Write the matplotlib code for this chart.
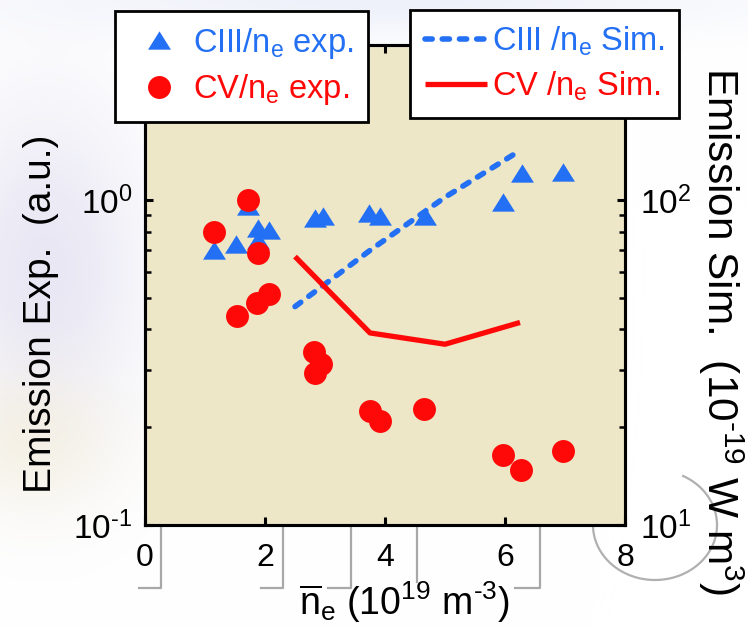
import matplotlib
matplotlib.use("Agg")
import matplotlib.pyplot as plt
from matplotlib.lines import Line2D
from matplotlib.ticker import LogLocator, NullFormatter, FuncFormatter
import numpy as np

plt.rcParams['font.family'] = ['Liberation Sans', 'DejaVu Sans']
plt.rcParams['mathtext.fontset'] = 'custom'
plt.rcParams['mathtext.rm'] = 'Liberation Sans'
plt.rcParams['mathtext.it'] = 'Liberation Sans'
plt.rcParams['mathtext.bf'] = 'Liberation Sans:bold'
plt.rcParams['axes.unicode_minus'] = False

# Line-averaged density (10^19 m^-3) and normalised emission, experiment
ciii_ne = [1.15, 1.52, 1.71, 1.88, 1.88, 2.07, 2.83, 2.96, 3.74, 3.91, 4.66, 5.96, 6.28, 6.96]
ciii_exp = [0.702, 0.732, 0.958, 0.818, 0.753, 0.809, 0.878, 0.893, 0.910, 0.893, 0.893, 0.988, 1.21, 1.22]
cv_ne = [1.71, 1.15, 1.88, 1.53, 1.86, 2.07, 2.82, 2.94, 2.83, 3.75, 3.92, 4.65, 5.96, 6.27, 6.96]
cv_exp = [1.00, 0.799, 0.688, 0.440, 0.483, 0.514, 0.341, 0.313, 0.294, 0.224, 0.209, 0.227, 0.164, 0.148, 0.169]

# Simulated emission (10^-19 W m^3)
sim_ne = [2.5, 3.75, 5.0, 6.25]
ciii_sim = [47, 70, 102, 142]
cv_sim = [67, 39, 36, 42]

x_ticks = [0, 2, 4, 6, 8]
legend_exp = ['CIII/n$_\\mathrm{e}$ exp.', 'CV/n$_\\mathrm{e}$ exp.']
legend_sim = ['CIII /n$_\\mathrm{e}$ Sim.', 'CV /n$_\\mathrm{e}$ Sim.']

BLUE = '#2370F4'
RED = '#FF0808'
BEIGE = '#EEE7C7'

W, H = 748, 628
fig = plt.figure(figsize=(W / 100, H / 100), dpi=100)
fig.patch.set_facecolor('white')


def px(x, y):
    """Pixel position (from top-left) to figure fraction."""
    return x / W, 1 - y / H


# soft washed-out backdrop
bg = fig.add_axes([0, 0, 1, 1], zorder=-10)
bg.set_axis_off()
yy, xx = np.mgrid[0:H, 0:W]
img = np.ones((H, W, 3))
blobs = [
    (45, 270, 70, 120, (0.80, 0.79, 0.90), 0.45),
    (380, 0, 260, 25, (0.86, 0.88, 0.96), 0.45),
    (30, 440, 60, 50, (0.95, 0.92, 0.82), 0.5),
]
for cx, cy, sx, sy, col, amp in blobs:
    w = amp * np.exp(-0.5 * (((xx - cx) / sx) ** 2 + ((yy - cy) / sy) ** 2))
    for c in range(3):
        img[:, :, c] = img[:, :, c] * (1 - w) + col[c] * w
bg.imshow(img, extent=(0, 1, 0, 1), aspect='auto', interpolation='bilinear')
bg.set_xlim(0, 1)
bg.set_ylim(0, 1)

gray_paths = [
    [(139, 588), (161, 588), (161, 525)],
    [(261, 588), (283, 588), (283, 525)],
    [(328, 588), (351, 588), (351, 525)],
    [(417, 525), (417, 582)],
    [(515, 588), (540, 588), (540, 525)],
]
for path in gray_paths:
    xs = [p[0] / W for p in path]
    ys = [1 - p[1] / H for p in path]
    fig.add_artist(Line2D(xs, ys, color='#A8A8A8', linewidth=1.6, zorder=-4))
theta = np.linspace(0.9 * np.pi, 2.35 * np.pi, 120)
fig.add_artist(Line2D((655 + 62 * np.cos(theta)) / W, 1 - (525 - 55 * np.sin(theta)) / H,
                      color='#B0B0B0', linewidth=1.6, zorder=-4))

ax = fig.add_axes([145 / W, 1 - 525 / H, 480 / W, 480 / H])
ax.set_facecolor(BEIGE)
ax.set_xlim(0, 8)
ax.set_yscale('log')
ax.set_ylim(0.1, 3.0)
ax.set_xticks(x_ticks)
ax.set_xticklabels([str(t) for t in x_ticks])

tri = [(0, 0.8), (-1, -0.8), (1, -0.8)]
h_tri, = ax.plot(ciii_ne, ciii_exp, linestyle='none', marker=tri, markersize=16.5,
                 color=BLUE, markeredgewidth=0, zorder=3)
h_circ, = ax.plot(cv_ne, cv_exp, linestyle='none', marker='o', markersize=16.5,
                  color=RED, markeredgewidth=0, zorder=4)

ax2 = ax.twinx()
ax2.set_yscale('log')
ax2.set_ylim(10, 300)
h_dash, = ax2.plot(sim_ne, ciii_sim, color=BLUE, linewidth=4.0,
                   linestyle=(0, (1.3, 1.8)), dash_capstyle='round')
h_solid, = ax2.plot(sim_ne, cv_sim, color=RED, linewidth=3.8, solid_capstyle='butt')

for a in (ax, ax2):
    for s in a.spines.values():
        s.set_linewidth(2.2)
        s.set_color('black')


def log_label(v, pos):
    e = int(round(np.log10(v)))
    if e < 0:
        return r'$10^{\text{-}%d}$' % (-e)
    return r'$10^{%d}$' % e


ax.tick_params(axis='both', which='major', direction='in', length=6, width=2.2,
               labelsize=24, top=True, right=False)
ax.tick_params(axis='both', which='minor', direction='in', length=4, width=1.8,
               top=True, right=False)
ax.tick_params(axis='x', labelsize=23, pad=13)
ax.tick_params(axis='y', pad=9)
ax.yaxis.set_major_locator(LogLocator(base=10, numticks=10))
ax.yaxis.set_minor_locator(LogLocator(base=10, subs=range(2, 10), numticks=20))
ax.yaxis.set_minor_formatter(NullFormatter())
ax.yaxis.set_major_formatter(FuncFormatter(log_label))

ax2.tick_params(axis='y', which='major', direction='in', length=6, width=2.2,
                labelsize=24, pad=11)
ax2.tick_params(axis='y', which='minor', direction='in', length=4, width=1.8)
ax2.yaxis.set_major_locator(LogLocator(base=10, numticks=10))
ax2.yaxis.set_minor_locator(LogLocator(base=10, subs=range(2, 10), numticks=20))
ax2.yaxis.set_minor_formatter(NullFormatter())
ax2.yaxis.set_major_formatter(FuncFormatter(log_label))

# Axis titles
fig.text(*px(41, 314), 'Emission Exp.  (a.u.)', rotation=90,
         ha='center', va='center', fontsize=28)
fig.text(*px(721, 331), 'Emission Sim.  (10$^{\\text{-}19}$ W m$^{3}$)', rotation=270,
         ha='center', va='center', fontsize=30.5)
fig.text(*px(404, 615),
         r'$\overline{\mathrm{n}}_{\mathrm{e}}\ (10^{19}\ \mathrm{m}^{\text{-}3})$',
         ha='center', va='baseline', fontsize=27)

common = dict(loc='upper left', bbox_transform=fig.transFigure, frameon=True,
              fancybox=False, framealpha=1, edgecolor='black', fontsize=23.5,
              borderpad=0.45, labelspacing=0.35, borderaxespad=0, numpoints=1)
leg1 = fig.legend([h_tri, h_circ], legend_exp, bbox_to_anchor=px(115, 11),
                  handlelength=1.8, handletextpad=0.15, labelcolor=[BLUE, RED], **common)
leg1.get_frame().set_linewidth(2.0)

leg2 = fig.legend([h_dash, h_solid], legend_sim, bbox_to_anchor=px(410, 10),
                  handlelength=1.9, handletextpad=0.15, labelcolor=[BLUE, RED], **common)
leg2.get_frame().set_linewidth(2.0)

fig.savefig('out.png', dpi=100, facecolor='white')
